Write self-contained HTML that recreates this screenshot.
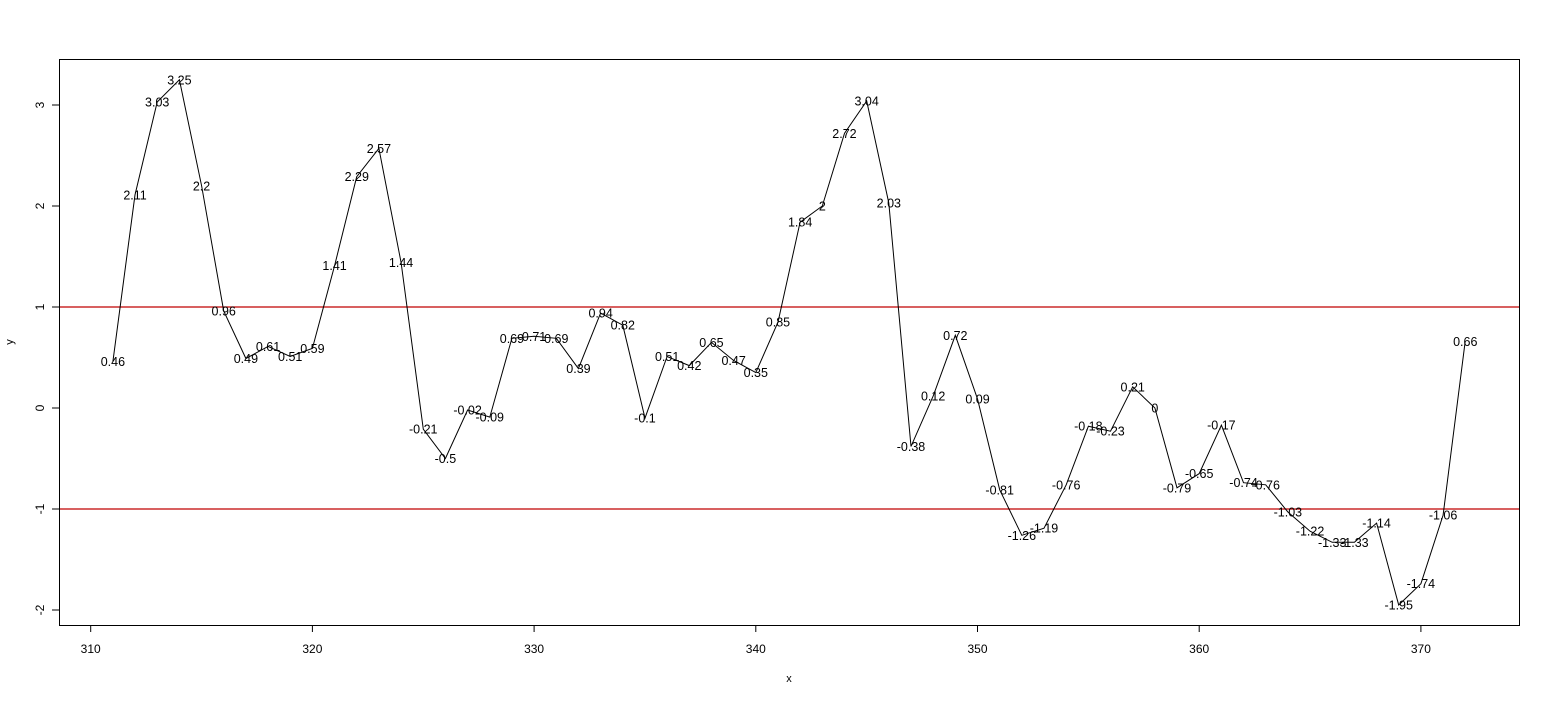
<!DOCTYPE html>
<html><head><meta charset="utf-8"><style>
body{margin:0;background:#fff;font-family:"Liberation Sans",Arial,sans-serif}
svg text{font-family:"Liberation Sans",Arial,sans-serif}
</style></head><body>
<svg id="chart" width="1550" height="700" xmlns="http://www.w3.org/2000/svg">
<rect x="0" y="0" width="1550" height="700" fill="#fff"/>
<rect x="59.5" y="59.5" width="1460" height="566" fill="none" stroke="#000" stroke-width="1"/>
<g id="axes"></g>
<g id="marks"></g>
<text x="789" y="682" font-size="11" text-anchor="middle">x</text>
<text x="0" y="0" font-size="11" text-anchor="middle" transform="translate(13,342) rotate(-90)">y</text>
</svg>
<script>
const xStart = 311;
const yValues = [0.46,2.11,3.03,3.25,2.2,0.96,0.49,0.61,0.51,0.59,1.41,2.29,2.57,1.44,-0.21,-0.5,-0.02,-0.09,0.69,0.71,0.69,0.39,0.94,0.82,-0.1,0.51,0.42,0.65,0.47,0.35,0.85,1.84,2,2.72,3.04,2.03,-0.38,0.12,0.72,0.09,-0.81,-1.26,-1.19,-0.76,-0.18,-0.23,0.21,0,-0.79,-0.65,-0.17,-0.74,-0.76,-1.03,-1.22,-1.33,-1.33,-1.14,-1.95,-1.74,-1.06,0.66];
const xTicks = [310,320,330,340,350,360,370];
const yTicks = [-2,-1,0,1,2,3];
const refLines = [1,-1];

const X = v => 90.7 + (v - 310) * 22.17;
const Y = v => 408 - v * 101;
const NS = "http://www.w3.org/2000/svg";
const axes = document.getElementById('axes');
const marks = document.getElementById('marks');
function mk(tag, attrs, parent){const e=document.createElementNS(NS,tag);for(const k in attrs)e.setAttribute(k,attrs[k]);parent.appendChild(e);return e;}

mk('line',{x1:X(xTicks[0]),x2:X(xTicks[xTicks.length-1]),y1:625.5,y2:625.5,stroke:'#000'},axes);
xTicks.forEach(t=>{
  const l=mk('line',{x1:X(t),x2:X(t),y1:625,y2:632,stroke:'#000'},axes);
  
  
  const tx=mk('text',{x:X(t),y:653,'font-size':12,'text-anchor':'middle'},axes);
  tx.textContent=t;
  
  
});
mk('line',{x1:59.5,x2:59.5,y1:Y(yTicks[0]),y2:Y(yTicks[yTicks.length-1]),stroke:'#000'},axes);
yTicks.forEach(t=>{
  const l=mk('line',{x1:52,x2:59.5,y1:Y(t),y2:Y(t),stroke:'#000'},axes);
  
  
  const tx=mk('text',{x:0,y:0,'font-size':12,'text-anchor':'middle',transform:`translate(44,${Y(t)}) rotate(-90)`},axes);
  tx.textContent=t;
  
  
});
refLines.forEach(r=>{
  const l=mk('line',{x1:60,x2:1519,y1:Y(r),y2:Y(r),stroke:'#c00000','stroke-width':1.2},marks);
  
  
});
const pts=yValues.map((v,i)=>X(xStart+i).toFixed(1)+','+Y(v).toFixed(1)).join(' ');
const pl=mk('polyline',{points:pts,fill:'none',stroke:'#000','stroke-width':1},marks);


yValues.forEach((v,i)=>{
  const t=mk('text',{x:X(xStart+i),y:Y(v)+4.5,'font-size':12.5,'text-anchor':'middle'},marks);
  t.textContent=String(v);
  
  
});
</script>
</body></html>
